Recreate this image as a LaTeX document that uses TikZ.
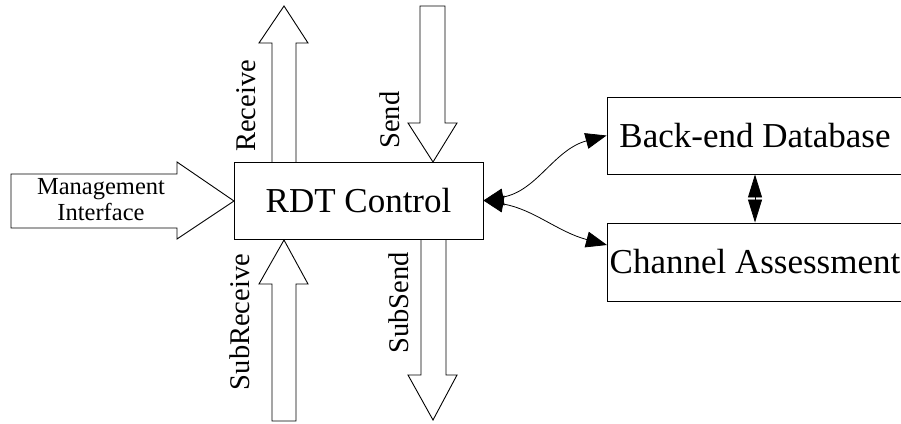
\documentclass[tikz,border=0pt]{standalone}
\usepackage{fontspec}
\setmainfont{Liberation Serif}
\usetikzlibrary{arrows.meta}
\tikzset{
  boxnode/.style={draw, line width=0.9pt, inner sep=0pt, font=\fontsize{35}{42}\selectfont},
  blockarrow/.style={draw, line width=0.9pt, fill=white, line join=miter},
  sidelabel/.style={inner sep=0pt, rotate=90, font=\fontsize{28.5}{34}\selectfont},
  mgmtlabel/.style={inner sep=0pt, align=center, font=\fontsize{24.5}{26}\selectfont},
  curvearrow/.style={line width=0.8pt, {Triangle[length=20pt,width=17pt]}-{Triangle[length=21pt,width=16pt]}},
  dblarrow/.style={line width=0.8pt, {Triangle[length=23pt,width=14pt]}-{Triangle[length=23pt,width=14pt]}}
}
\begin{document}
\begin{tikzpicture}[x=1pt,y=-1pt]
\useasboundingbox (0,0) rectangle (901,423);
\clip (0,0) rectangle (901,423);
\fill[white] (0,0) rectangle (901,423);

% block arrows
\draw[blockarrow] (272,162) -- (272,43) -- (259,43) -- (284,6) -- (308,43) -- (296,43) -- (296,162);
\draw[blockarrow] (420,6) -- (420,123) -- (408,123) -- (433,162) -- (457,123) -- (445,123) -- (445,6) -- cycle;
\draw[blockarrow] (11,174) -- (177,174) -- (177,162) -- (234,201) -- (177,239) -- (177,228) -- (11,228) -- cycle;
\draw[blockarrow] (272,421) -- (272,284) -- (259,284) -- (284,240) -- (308,284) -- (296,284) -- (296,421) -- cycle;
\draw[blockarrow] (421,239) -- (421,375) -- (408,375) -- (433,420) -- (457,375) -- (446,375) -- (446,239);

% main boxes
\node[boxnode, minimum width=249pt, minimum height=77pt] (rdt) at (358.5,200.5) {RDT Control};
\node[boxnode, minimum width=296pt, minimum height=77pt] (db) at (755,135.5) {Back-end Database};
\node[boxnode, minimum width=296pt, minimum height=78pt] (ca) at (755,262) {Channel Assessment};

% labels
\node[mgmtlabel] (mgmt) at (101,200) {Management\\Interface};
\node[sidelabel] (recv) at (246,106) {Receive};
\node[sidelabel] (send) at (390,120) {Send};
\node[sidelabel] (subrecv) at (240,322) {SubReceive};
\node[sidelabel] (subsend) at (399,303) {SubSend};

% connectors
\coordinate (caentry) at (607,245);
\draw[curvearrow] (rdt.east) to[out=10,in=195] (db.west);
\draw[curvearrow] (rdt.east) to[out=-10,in=165] (caentry);
\draw[dblarrow] (db.south) -- (ca.north);
\end{tikzpicture}
\end{document}
